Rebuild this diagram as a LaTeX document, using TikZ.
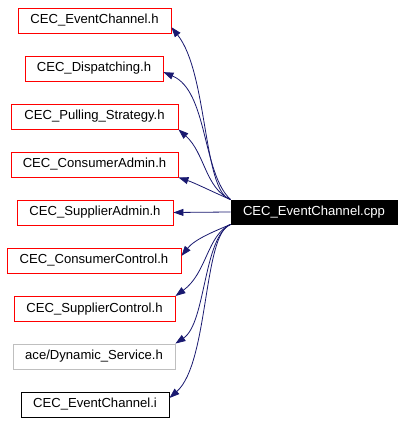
\documentclass[tikz,border=0pt]{standalone}
\usepackage{fontspec}
\setmainfont{Liberation Sans}
\usetikzlibrary{arrows.meta}
\definecolor{edgeblue}{HTML}{191970}
\definecolor{boxgray}{HTML}{BFBFBF}
\begin{document}
\begin{tikzpicture}[x=1pt,y=1pt,
  box/.style={draw, line width=0.9pt, inner sep=0pt, minimum height=25pt, font=\fontsize{13.1}{15}\selectfont},
  redbox/.style={box, draw=red},
  graybox/.style={box, draw=boxgray},
  blackbox/.style={box, draw=black},
  mainbox/.style={box, fill=black, draw=black, text=white, minimum height=24pt},
  edge/.style={draw=edgeblue, line width=0.8pt, -{Triangle[length=10pt,width=7pt]}, edgeblue}
]
\useasboundingbox (0,0) rectangle (404,423);
\fill[white] (0,0) rectangle (404,423);
\node[redbox, minimum width=153pt] (n1) at (94.5,402.5) {CEC\_EventChannel.h};
\node[redbox, minimum width=138pt] (n2) at (94,354.5) {CEC\_Dispatching.h};
\node[redbox, minimum width=167pt] (n3) at (94.5,306.5) {CEC\_Pulling\_Strategy.h};
\node[redbox, minimum width=167pt] (n4) at (94.5,258.5) {CEC\_ConsumerAdmin.h};
\node[redbox, minimum width=156pt] (n5) at (95,210.5) {CEC\_SupplierAdmin.h};
\node[redbox, minimum width=174pt] (n6) at (94,162.5) {CEC\_ConsumerControl.h};
\node[redbox, minimum width=161pt] (n7) at (94.5,114) {CEC\_SupplierControl.h};
\node[graybox, minimum width=162pt] (n8) at (94,66.5) {ace/Dynamic\_Service.h};
\node[blackbox, minimum width=148pt] (n9) at (95,18.5) {CEC\_EventChannel.i};
\node[mainbox, minimum width=166pt] (cpp) at (314,211) {CEC\_EventChannel.cpp};

\draw[edge] (cpp.north west) .. controls (203,231) and (208,350) .. (n1.-5.6);
\draw[edge] (cpp.north west) .. controls (202,250) and (208,332) .. (n2.-3.7);
\draw[edge] (cpp.north west) .. controls (205,235) and (205,270) .. (n3.south east);
\draw[edge] (cpp.north west) .. controls (215,230) and (195,240) .. (n4.south east);
\draw[edge] (cpp.west) -- (n5.east);
\draw[edge] (cpp.south west) .. controls (215,192) and (195,184) .. (n6.3.6);
\draw[edge] (cpp.south west) .. controls (207,188) and (207,150) .. (n7.north east);
\draw[edge] (cpp.south west) .. controls (203,185) and (206,100) .. (n8.north east);
\draw[edge] (cpp.south west) .. controls (203,190) and (209,60) .. (n9.5.8);
\end{tikzpicture}
\end{document}
